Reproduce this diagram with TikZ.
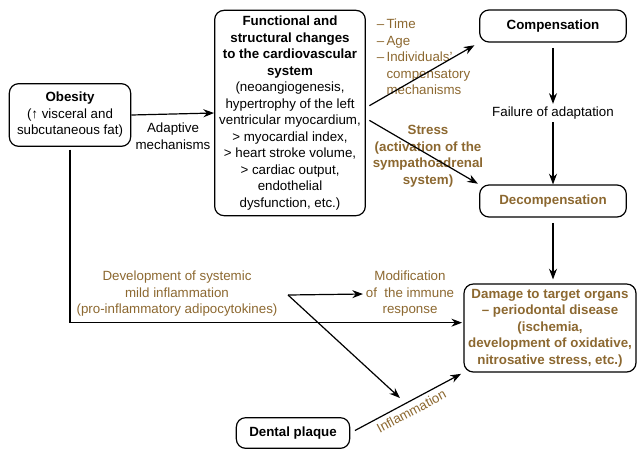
\documentclass[tikz,border=0pt]{standalone}
\usepackage{fontspec}
\setmainfont{Liberation Sans}
\usetikzlibrary{arrows.meta}
\definecolor{brownish}{RGB}{140,104,48}
\begin{document}
\begin{tikzpicture}
    [x=0.75pt, y=-0.75pt,
    box/.style={draw, rounded corners=7pt, line width=0.9pt, align=center, inner sep=1pt,
        font=\fontsize{10}{12.4}\selectfont},
    txt/.style={align=center, inner sep=2pt, font=\fontsize{10}{12.4}\selectfont},
    arr/.style={line width=0.9pt, -{Stealth[length=8pt, width=6pt]}}]
    \useasboundingbox (0,0) rectangle (638,451);
    % boxes
    \node[box, minimum width=91pt, minimum height=47pt] (obesity) at (70, 115)
        {\textbf{Obesity}\\(\symbol{"2191} visceral and\\subcutaneous fat)};
    \node[box, minimum width=113pt, minimum height=154pt] (changes) at (290, 113)
        {\textbf{Functional and}\\\textbf{structural changes}\\\textbf{to the cardiovascular}\\\textbf{system}\\
        (neoangiogenesis,\\hypertrophy of the left\\ventricular myocardium,\\> myocardial index,\\
        > heart stroke volume,\\> cardiac output,\\endothelial\\dysfunction, etc.)};
    \node[box, minimum width=110pt, minimum height=24pt] (comp) at (553, 26) {\textbf{Compensation}};
    \node[box, minimum width=110pt, minimum height=24pt, text=brownish] (decomp) at (553, 201) {\textbf{Decompensation}};
    \node[box, minimum width=129pt, minimum height=66pt, text=brownish] (damage) at (550, 328)
        {\textbf{Damage to target organs}\\\textbf{-- periodontal disease}\\\textbf{(ischemia,}\\
        \textbf{development of oxidative,}\\\textbf{nitrosative stress, etc.)}};
    \node[box, minimum width=85pt, minimum height=23pt] (plaque) at (293, 433) {\textbf{Dental plaque}};
    %
    \node[txt] (failure) at (553, 113) {Failure of adaptation};
    \node[txt] (adaptive) at (173, 136) {Adaptive\\mechanisms};
    \node[txt, anchor=north west, align=left, text=brownish] (factors) at (374, 16)
        {--\,Time\\--\,Age\\--\,Individuals'\\\phantom{--\,}compensatory\\\phantom{--\,}mechanisms};
    \node[txt, text=brownish, font=\fontsize{10}{12.4}\selectfont\bfseries] (stress) at (428, 156)
        {Stress\\(activation of the\\sympathoadrenal\\system)};
    \node[txt, text=brownish] (devel) at (177, 294)
        {Development of systemic\\mild inflammation\\(pro-inflammatory adipocytokines)};
    \node[txt, text=brownish] (immune) at (410, 294) {Modification\\of\ \ the immune\\response};
    \coordinate (split) at (288, 295);
    \coordinate (inflend) at (400, 398);
    %
    \draw[arr] (obesity.east) -- (changes.west);
    \draw[arr, shorten <=3pt, shorten >=4pt] ([yshift=4pt]changes.east) -- (comp.south west);
    \draw[arr, shorten <=3pt, shorten >=1pt] ([yshift=-4pt]changes.east) -- (decomp.north west);
    \draw[arr, shorten <=4pt] (comp.south) -- (failure.north);
    \draw[arr] (failure.south) -- (decomp.north);
    \draw[arr, shorten <=4pt, shorten >=3pt] (decomp.south) -- (decomp.south |- damage.north);
    \draw[arr, shorten <=2pt, shorten >=1pt] (obesity.south) |- ([yshift=4pt]damage.west);
    \draw[arr] (split) -- (immune.west);
    \draw[arr] (split) -- (inflend);
    \draw[arr, shorten <=4pt, shorten >=2pt] (plaque.east) -- (damage.south west)
        node[pos=0.5, sloped, below=1pt, txt, text=brownish] {Inflammation};
\end{tikzpicture}
\end{document}
